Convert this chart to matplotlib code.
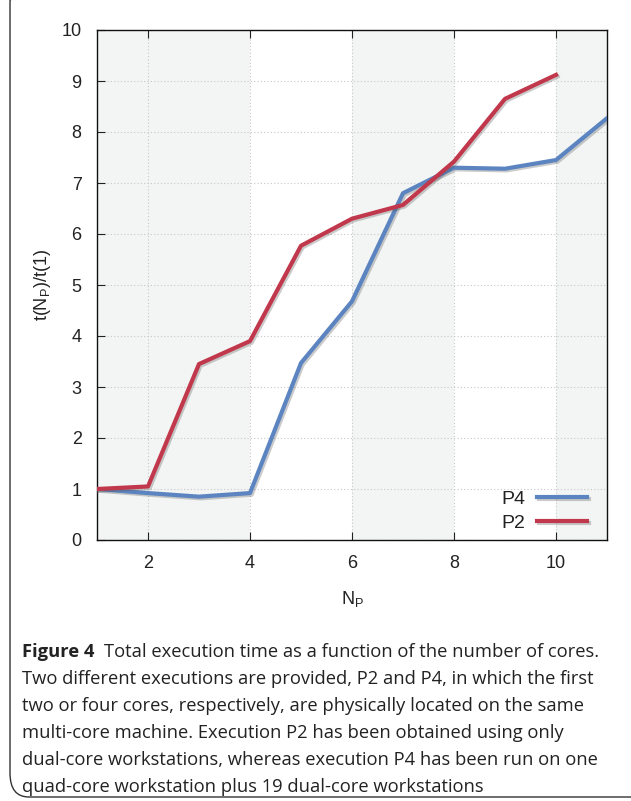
import numpy as np
import matplotlib
matplotlib.use("Agg")
import matplotlib.pyplot as plt
import matplotlib.patheffects as pe
from matplotlib.patches import FancyBboxPatch

# data
n_p = [1, 2, 3, 4, 5, 6, 7, 8, 9, 10, 11]
p4 = [1.0, 0.92, 0.85, 0.92, 3.47, 4.68, 6.8, 7.3, 7.28, 7.45, 8.27]
p2 = [1.0, 1.05, 3.45, 3.9, 5.77, 6.3, 6.57, 7.42, 8.65, 9.12]

xticks = [2, 4, 6, 8, 10]
yticks = [0, 1, 2, 3, 4, 5, 6, 7, 8, 9, 10]
shaded = [(1, 4), (6, 8), (10, 11)]

caption_lines = [
    "Two different executions are provided, P2 and P4, in which the first",
    "two or four cores, respectively, are physically located on the same",
    "multi-core machine. Execution P2 has been obtained using only",
    "dual-core workstations, whereas execution P4 has been run on one",
    "quad-core workstation plus 19 dual-core workstations",
]

W, H = 631, 801
fig = plt.figure(figsize=(W / 100, H / 100), dpi=100)
plt.rcParams['font.family'] = ['Liberation Sans', 'DejaVu Sans']

# rounded frame around figure + caption
frame = FancyBboxPatch((10 / W, 4 / H), 640 / W, 820 / H,
                       boxstyle="round,pad=0,rounding_size=0.03",
                       transform=fig.transFigure, fill=False,
                       edgecolor='#333333', lw=1.0, clip_on=False)
fig.patches.append(frame)

ax = fig.add_axes([97 / W, (H - 540) / H, (607 - 97) / W, 510 / H])
for a, b in shaded:
    ax.axvspan(a, b, color='#f3f5f4', zorder=0, lw=0)

shadow = [pe.SimpleLineShadow(offset=(1.2, -1.2), shadow_color='#555555', alpha=0.3),
          pe.Normal()]
ax.plot(n_p, p4, color='#5b84c0', lw=3, label='P4', path_effects=shadow, zorder=3)
ax.plot(n_p[:len(p2)], p2, color='#c1374b', lw=3, label='P2', path_effects=shadow, zorder=4)

ax.set_xlim(1, 11)
ax.set_ylim(0, 10)
ax.set_xticks(xticks)
ax.set_yticks(yticks)
ax.grid(True, color='#c8c8c8', ls=(0, (1, 2)), lw=0.8)
ax.set_axisbelow(True)
ax.tick_params(axis='x', direction='in', length=6, top=True, labelsize=13,
               pad=11, colors='#222222')
ax.tick_params(axis='y', direction='in', length=6, labelsize=13,
               pad=11, colors='#222222')
for s in ax.spines.values():
    s.set_color('#111111')
    s.set_linewidth(1.0)

ax.set_xlabel(r'N$_\mathregular{P}$', fontsize=13, color='#222222', labelpad=12)
ax.set_ylabel(r't(N$_\mathregular{P}$)/t(1)', fontsize=13, color='#222222', labelpad=6)

leg = ax.legend(loc='lower right', frameon=False, fontsize=14,
                markerfirst=False, handlelength=2.6, handletextpad=0.6,
                labelspacing=0.35, borderaxespad=0, bbox_to_anchor=(0.977, 0.0))
for t in leg.get_texts():
    t.set_color('#222222')

# caption
cap_font = ['Open Sans', 'DejaVu Sans']
cap_size = 13.2
y0 = 652
fig.text(22 / W, 1 - y0 / H, "Figure 4", fontsize=cap_size, fontweight='bold',
         family=cap_font, va='center', color='#222222')
fig.text(104 / W, 1 - y0 / H, "Total execution time as a function of the number of cores.",
         fontsize=cap_size, family=cap_font, va='center', color='#222222')
for i, line in enumerate(caption_lines):
    fig.text(22 / W, 1 - (y0 + 27 * (i + 1)) / H, line, fontsize=cap_size,
             family=cap_font, va='center', color='#222222')

fig.savefig('out.png', dpi=100)
